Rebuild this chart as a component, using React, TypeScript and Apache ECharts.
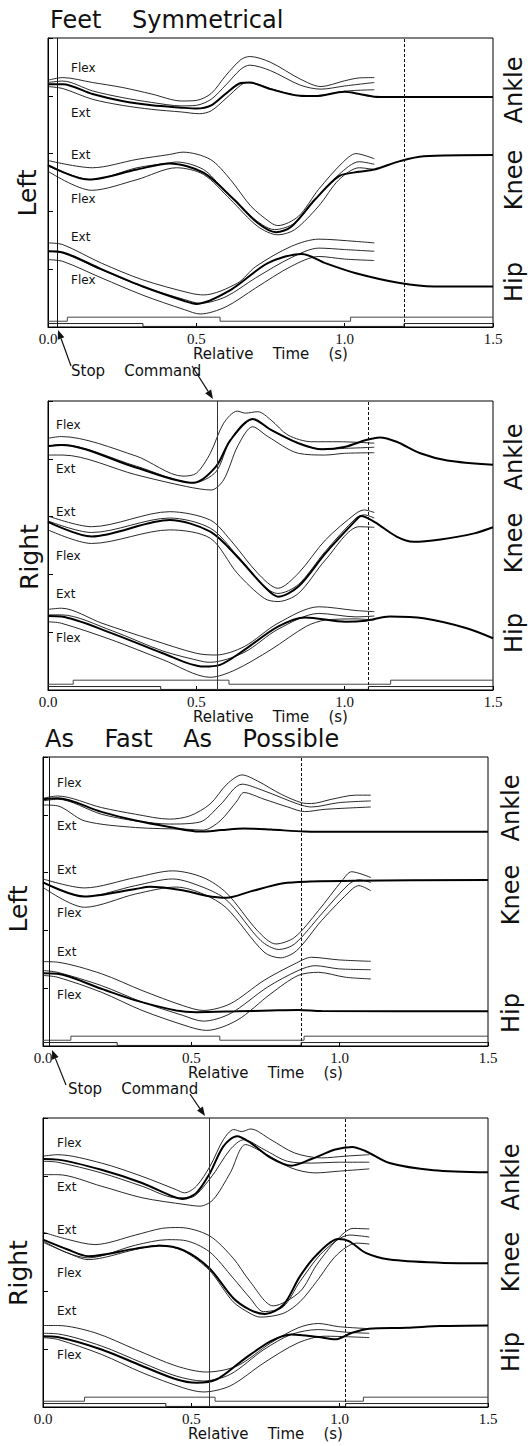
import React, { useEffect, useRef } from "react";
import * as echarts from "echarts";

// ---------- DATA (time in s, joint angle in arbitrary 0-100 plot units) ----------
// Panel 1: Feet Symmetrical / Left
const p1AnkleHi = [[0,85.4],[0.05,86.3],[0.15,84.6],[0.25,82.9],[0.35,80.6],[0.45,78.2],[0.5,78.4],[0.55,80.8],[0.6,87.1],[0.65,92.5],[0.68,93.6],[0.75,91.6],[0.85,85.8],[0.92,83.2],[1.0,85.2],[1.05,86.2],[1.1,86.3]];
const p1AnkleMid = [[0,84.6],[0.05,85.1],[0.15,81.7],[0.25,79.4],[0.35,77.7],[0.45,76.5],[0.5,76.7],[0.55,78.8],[0.6,83.8],[0.65,89.2],[0.68,90.6],[0.75,88.7],[0.85,83.7],[0.92,82.3],[1.0,83.4],[1.1,84.6]];
const p1AnkleLo = [[0,83.2],[0.05,82.5],[0.15,78.8],[0.25,76.7],[0.35,75.3],[0.45,74.4],[0.51,73.8],[0.55,74.8],[0.6,79.1],[0.65,83.7],[0.67,84.6],[0.75,82.5],[0.85,80.0],[0.9,79.9],[1.0,81.6],[1.1,82.1]];
const p1AnkleStop = [[0,84.0],[0.05,84.0],[0.15,80.6],[0.25,78.2],[0.35,76.7],[0.45,75.9],[0.5,75.6],[0.55,76.7],[0.6,80.8],[0.65,84.4],[0.68,84.6],[0.75,82.3],[0.85,80.0],[0.9,79.9],[1.0,81.4],[1.05,80.6],[1.1,79.7],[1.15,79.6],[1.5,79.6]];
const p1KneeHi = [[0,57.6],[0.15,55.1],[0.3,58.0],[0.41,59.7],[0.455,60.5],[0.547,58.0],[0.615,51.0],[0.684,41.8],[0.752,36.0],[0.775,35.1],[0.844,38.3],[0.912,47.6],[0.992,56.8],[1.038,60.0],[1.1,58.2]];
const p1KneeMid = [[0,55.7],[0.147,51.0],[0.3,55.1],[0.41,56.8],[0.433,57.1],[0.524,54.5],[0.592,47.6],[0.684,38.3],[0.764,33.7],[0.832,36.0],[0.9,44.1],[0.981,52.8],[1.049,57.2],[1.1,56.3]];
const p1KneeLo = [[0,53.9],[0.147,47.3],[0.3,51.0],[0.433,55.1],[0.524,52.8],[0.615,44.1],[0.707,34.8],[0.775,31.9],[0.832,33.7],[0.912,41.8],[0.981,51.0],[1.049,55.1],[1.1,54.5]];
const p1KneeStop = [[0,56.0],[0.136,51.0],[0.3,54.5],[0.41,56.6],[0.524,53.4],[0.627,44.1],[0.707,36.0],[0.769,32.8],[0.821,34.8],[0.9,44.1],[0.981,52.2],[1.049,53.7],[1.1,54.5],[1.186,57.4],[1.266,59.1],[1.5,59.5]];
const p1HipHi = [[0,29.1],[0.05,28.5],[0.18,22.1],[0.32,16.3],[0.48,11.7],[0.525,11.1],[0.639,15.2],[0.7,20.9],[0.82,27.9],[0.913,30.4],[1.04,29.6],[1.1,29.1]];
const p1HipMid = [[0,26.2],[0.05,25.6],[0.18,19.8],[0.32,13.9],[0.46,9.5],[0.513,8.2],[0.6,10.5],[0.7,17.0],[0.82,24.0],[0.913,27.3],[1.0,26.8],[1.1,26.2]];
const p1HipLo = [[0,23.3],[0.05,22.7],[0.18,17.0],[0.32,11.0],[0.46,6.0],[0.513,4.5],[0.6,7.0],[0.7,13.5],[0.82,21.0],[0.913,24.4],[1.0,23.5],[1.1,23.0]];
const p1HipStop = [[0,26.2],[0.05,25.8],[0.18,20.0],[0.32,14.0],[0.46,9.0],[0.5,8.0],[0.615,12.8],[0.741,22.1],[0.855,25.3],[0.935,22.1],[1.038,18.6],[1.186,15.2],[1.3,14.0],[1.5,14.0]];
const p1SwitchA = [[0,2.0],[0.065,3.4],[0.58,2.0],[1.02,3.4],[1.5,3.4]];
const p1SwitchB = [[0,1.2],[0.32,0.2],[1.2,1.2],[1.5,1.2]];

// Panel 2: Feet Symmetrical / Right
const p2AnkleHi = [[0,87.1],[0.045,87.7],[0.296,81.0],[0.455,74.0],[0.5,75.0],[0.547,81.9],[0.592,92.3],[0.638,96.5],[0.665,95.8],[0.707,96.3],[0.752,93.4],[0.809,88.2],[0.889,85.9],[0.981,85.9],[1.1,85.4]];
const p2AnkleMid = [[0,84.4],[0.045,84.9],[0.296,77.5],[0.49,71.7],[0.566,75.5],[0.615,86.5],[0.69,93.6],[0.752,90.0],[0.844,85.4],[0.924,83.3],[1.0,83.6],[1.1,84.0]];
const p2AnkleLo = [[0,81.3],[0.05,81.3],[0.296,74.5],[0.467,70.4],[0.55,69.2],[0.592,72.7],[0.64,84.5],[0.69,91.1],[0.741,87.7],[0.844,81.9],[0.935,81.3],[1.0,81.9],[1.1,82.1]];
const p2AnkleStop = [[0,84.4],[0.045,84.8],[0.296,77.0],[0.49,71.7],[0.566,77.3],[0.615,86.5],[0.69,93.8],[0.752,90.0],[0.844,85.4],[0.924,83.3],[1.003,84.2],[1.072,86.5],[1.118,87.4],[1.175,85.9],[1.255,81.9],[1.346,79.4],[1.5,77.9]];
const p2KneeHi = [[0,60.2],[0.147,56.5],[0.41,61.7],[0.547,58.8],[0.615,51.9],[0.707,40.4],[0.775,35.2],[0.844,40.4],[0.935,51.9],[1.038,61.1],[1.066,62.3],[1.1,61.4]];
const p2KneeMid = [[0,58.5],[0.147,54.5],[0.41,59.5],[0.547,56.0],[0.638,46.5],[0.729,35.8],[0.775,33.4],[0.844,36.5],[0.935,48.0],[1.038,59.5],[1.066,60.6],[1.1,59.5]];
const p2KneeLo = [[0,55.4],[0.147,50.7],[0.41,55.4],[0.547,52.5],[0.638,40.4],[0.729,31.7],[0.775,30.6],[0.844,33.4],[0.935,45.0],[1.049,56.5],[1.1,56.3]];
const p2KneeStop = [[0,58.2],[0.147,53.1],[0.41,58.8],[0.547,54.8],[0.638,46.1],[0.729,35.8],[0.775,32.3],[0.844,35.8],[0.935,47.3],[1.038,58.8],[1.055,60.2],[1.1,58.2],[1.175,53.1],[1.232,51.3],[1.323,52.1],[1.437,54.2],[1.5,56.3]];
const p2HipHi = [[0,27.9],[0.045,28.3],[0.182,23.1],[0.353,17.3],[0.5,12.7],[0.566,12.1],[0.661,15.0],[0.775,23.1],[0.913,28.8],[1.038,27.5],[1.1,27.1]];
const p2HipMid = [[0,26.0],[0.045,26.0],[0.216,20.5],[0.387,13.5],[0.524,9.8],[0.547,9.6],[0.661,13.0],[0.775,21.0],[0.913,26.5],[1.038,25.3],[1.1,25.6]];
const p2HipLo = [[0,23.6],[0.045,23.1],[0.216,17.3],[0.387,10.5],[0.547,4.4],[0.63,6.9],[0.752,14.0],[0.87,22.0],[0.935,24.2],[1.038,24.6],[1.1,24.2]];
const p2HipStop = [[0,25.6],[0.045,25.4],[0.216,19.6],[0.387,12.7],[0.524,8.1],[0.58,8.7],[0.661,13.8],[0.775,21.9],[0.867,25.1],[1.003,23.6],[1.072,24.0],[1.152,25.4],[1.266,24.8],[1.414,21.3],[1.5,17.9]];
const p2SwitchA = [[0,2.0],[0.085,3.4],[0.61,2.0],[1.155,3.4],[1.5,3.4]];
const p2SwitchB = [[0,1.2],[0.38,0.2],[1.08,1.2],[1.5,1.2]];

// Panel 3: As Fast As Possible / Left
const p3AnkleHi = [[0,85.7],[0.049,86.5],[0.197,82.5],[0.312,80.2],[0.426,78.5],[0.494,79.6],[0.563,83.7],[0.62,90.6],[0.671,93.8],[0.723,91.7],[0.803,87.1],[0.871,84.2],[0.905,83.9],[0.974,85.4],[1.054,86.8],[1.105,86.8]];
const p3AnkleMid = [[0,84.8],[0.049,85.4],[0.197,80.2],[0.312,77.9],[0.426,76.8],[0.529,77.5],[0.597,83.4],[0.671,90.6],[0.745,88.3],[0.86,83.7],[0.905,82.7],[0.997,84.2],[1.105,84.8]];
const p3AnkleLo = [[0,83.4],[0.049,83.1],[0.14,77.9],[0.312,75.6],[0.483,75.0],[0.54,74.7],[0.597,77.9],[0.654,84.8],[0.677,87.7],[0.745,85.4],[0.825,82.7],[0.882,81.1],[0.951,81.9],[1.105,82.7]];
const p3AnkleStop = [[0,85.4],[0.049,85.7],[0.197,81.0],[0.312,78.0],[0.426,75.8],[0.529,74.2],[0.6,74.7],[0.677,75.3],[0.768,74.9],[0.882,74.2],[1.0,74.1],[1.5,74.1]];
const p3KneeHi = [[0,57.8],[0.14,54.7],[0.312,58.3],[0.437,60.6],[0.54,58.3],[0.619,52.9],[0.723,39.9],[0.785,35.3],[0.848,37.6],[0.928,46.8],[1.008,57.2],[1.04,60.3],[1.105,58.3]];
const p3KneeMid = [[0,56.6],[0.14,51.7],[0.312,55.5],[0.437,57.8],[0.54,54.9],[0.619,50.5],[0.734,36.5],[0.795,33.4],[0.848,35.3],[0.939,45.7],[1.031,56.0],[1.065,57.5],[1.105,56.6]];
const p3KneeLo = [[0,54.9],[0.14,48.0],[0.312,52.6],[0.449,55.0],[0.54,52.6],[0.619,47.7],[0.745,32.5],[0.8,30.5],[0.855,33.0],[0.939,43.4],[1.042,54.3],[1.065,55.5],[1.105,53.7]];
const p3KneeStop = [[0,56.6],[0.14,51.7],[0.312,54.3],[0.36,55.1],[0.47,53.9],[0.55,52.0],[0.619,51.3],[0.7,53.5],[0.81,56.3],[0.9,56.9],[1.05,57.2],[1.5,57.4]];
const p3HipHi = [[0,29.2],[0.049,29.0],[0.197,25.0],[0.334,19.2],[0.471,14.0],[0.54,12.3],[0.631,14.6],[0.745,22.7],[0.848,28.4],[0.905,30.7],[0.997,29.8],[1.105,29.3]];
const p3HipMid = [[0,26.1],[0.049,25.5],[0.197,20.9],[0.334,15.2],[0.471,10.6],[0.54,8.6],[0.631,11.2],[0.757,20.4],[0.86,26.1],[0.917,27.8],[0.997,26.7],[1.105,26.4]];
const p3HipLo = [[0,24.4],[0.049,23.8],[0.197,18.6],[0.334,12.3],[0.494,6.6],[0.551,5.4],[0.654,8.9],[0.768,18.1],[0.86,24.4],[0.928,25.5],[1.019,23.8],[1.105,23.2]];
const p3HipStop = [[0,25.2],[0.049,25.0],[0.197,19.8],[0.312,15.8],[0.449,12.3],[0.517,11.7],[0.654,12.0],[0.768,12.3],[0.86,12.5],[0.939,12.1],[1.5,12.0]];
const p3SwitchA = [[0,2.0],[0.094,3.4],[0.596,2.0],[0.88,3.4],[1.5,3.4]];
const p3SwitchB = [[0,1.2],[0.25,0.2],[0.87,1.2],[1.5,1.2]];

// Panel 4: As Fast As Possible / Right
const p4AnkleHi = [[0,86.8],[0.049,87.3],[0.197,84.4],[0.334,79.8],[0.449,75.2],[0.477,74.1],[0.517,76.4],[0.563,83.3],[0.608,92.5],[0.643,96.0],[0.67,95.3],[0.7,96.2],[0.768,92.5],[0.848,87.9],[0.939,86.2],[1.019,86.8],[1.1,87.3]];
const p4AnkleMid = [[0,85.0],[0.049,84.7],[0.197,81.0],[0.334,76.4],[0.449,72.4],[0.494,72.4],[0.563,79.0],[0.631,89.1],[0.677,92.5],[0.745,89.1],[0.825,85.0],[0.905,84.4],[0.997,84.7],[1.1,84.7]];
const p4AnkleLo = [[0,80.4],[0.049,80.4],[0.197,76.4],[0.334,72.4],[0.483,70.0],[0.529,69.5],[0.574,71.8],[0.631,81.0],[0.683,90.8],[0.745,87.9],[0.837,82.7],[0.917,81.0],[0.997,81.6],[1.1,82.4]];
const p4AnkleStop = [[0,85.8],[0.049,85.6],[0.197,82.1],[0.334,77.5],[0.437,72.9],[0.471,72.0],[0.517,74.1],[0.563,81.0],[0.608,90.2],[0.654,93.7],[0.7,91.4],[0.768,86.2],[0.837,83.5],[0.905,85.8],[0.985,89.1],[1.042,90.0],[1.088,88.5],[1.168,84.4],[1.316,81.9],[1.5,81.2]];
const p4KneeHi = [[0,60.5],[0.083,58.0],[0.175,56.2],[0.312,59.5],[0.4,61.8],[0.46,62.1],[0.56,59.3],[0.641,51.5],[0.698,43.4],[0.776,35.0],[0.866,39.9],[0.922,49.1],[0.99,57.8],[1.045,61.8],[1.1,61.6]];
const p4KneeMid = [[0,57.4],[0.083,53.3],[0.152,51.6],[0.312,56.0],[0.42,57.9],[0.473,57.7],[0.56,53.8],[0.641,44.6],[0.698,37.7],[0.743,33.0],[0.81,34.7],[0.866,43.4],[0.945,53.8],[1.034,59.5],[1.1,58.8]];
const p4KneeLo = [[0,57.0],[0.083,53.3],[0.152,51.0],[0.312,54.5],[0.392,56.0],[0.473,54.0],[0.56,47.4],[0.641,36.4],[0.698,32.4],[0.732,31.1],[0.81,32.4],[0.866,36.4],[0.922,43.4],[0.99,52.6],[1.057,56.7],[1.1,56.4]];
const p4KneeStop = [[0,57.9],[0.083,54.5],[0.152,52.2],[0.312,54.8],[0.392,55.8],[0.473,54.3],[0.56,48.1],[0.641,37.7],[0.698,33.6],[0.748,32.2],[0.81,35.3],[0.866,45.2],[0.922,52.6],[0.995,58.1],[1.031,57.4],[1.088,53.3],[1.168,51.0],[1.339,49.9],[1.5,49.7]];
const p4HipHi = [[0,28.2],[0.049,28.2],[0.175,25.7],[0.312,19.9],[0.449,14.2],[0.551,12.1],[0.654,14.2],[0.768,22.2],[0.86,27.4],[0.928,28.9],[0.997,27.8],[1.1,27.1]];
const p4HipMid = [[0,25.5],[0.049,25.3],[0.197,21.1],[0.334,15.3],[0.449,10.7],[0.54,9.0],[0.631,11.3],[0.745,19.9],[0.837,25.1],[0.928,26.8],[1.019,25.9],[1.1,25.5]];
const p4HipLo = [[0,24.0],[0.049,23.4],[0.197,18.2],[0.334,11.9],[0.471,6.7],[0.54,5.2],[0.631,7.3],[0.745,15.3],[0.86,22.2],[0.951,24.5],[1.1,24.0]];
const p4HipStop = [[0,24.5],[0.049,24.2],[0.197,19.9],[0.334,14.2],[0.449,9.6],[0.517,8.4],[0.586,9.6],[0.677,16.5],[0.768,22.8],[0.837,25.1],[0.928,24.2],[0.985,23.4],[1.042,25.7],[1.099,27.1],[1.225,27.4],[1.339,28.0],[1.5,28.2]];
const p4SwitchA = [[0,2.0],[0.14,3.4],[0.58,2.0],[1.08,3.4],[1.5,3.4]];
const p4SwitchB = [[0,1.2],[0.414,0.2],[1.02,1.2],[1.5,1.2]];

// stop-command time and dashed end time per panel
const stopTimes = [0.033, 0.566, 0.024, 0.56];
const endTimes = [1.2, 1.081, 0.871, 1.022];

const xTicks = [0, 0.5, 1.0, 1.5];
const xAxisName = "Relative    Time    (s)";
const jointNames = ["Ankle", "Knee", "Hip"];
const sideNames = ["Left", "Right", "Left", "Right"];
const conditionTitles = ["Feet    Symmetrical", "As    Fast    As    Possible"];
const bandLabels = ["Flex", "Ext", "Ext", "Flex", "Ext", "Flex"];

const panelCurves = [
  [[p1AnkleHi, p1AnkleMid, p1AnkleLo, p1AnkleStop], [p1KneeHi, p1KneeMid, p1KneeLo, p1KneeStop], [p1HipHi, p1HipMid, p1HipLo, p1HipStop]],
  [[p2AnkleHi, p2AnkleMid, p2AnkleLo, p2AnkleStop], [p2KneeHi, p2KneeMid, p2KneeLo, p2KneeStop], [p2HipHi, p2HipMid, p2HipLo, p2HipStop]],
  [[p3AnkleHi, p3AnkleMid, p3AnkleLo, p3AnkleStop], [p3KneeHi, p3KneeMid, p3KneeLo, p3KneeStop], [p3HipHi, p3HipMid, p3HipLo, p3HipStop]],
  [[p4AnkleHi, p4AnkleMid, p4AnkleLo, p4AnkleStop], [p4KneeHi, p4KneeMid, p4KneeLo, p4KneeStop], [p4HipHi, p4HipMid, p4HipLo, p4HipStop]],
];
const panelSwitches = [[p1SwitchA, p1SwitchB], [p2SwitchA, p2SwitchB], [p3SwitchA, p3SwitchB], [p4SwitchA, p4SwitchB]];

// ---------- LAYOUT ----------
const W = 531;
const H = 1446;
const GRID_W = 445;
const GRID_H = 289;
const gridPos = [
  { left: 48, top: 38, nameGap: 17 },
  { left: 48, top: 401, nameGap: 15 },
  { left: 43, top: 757, nameGap: 16 },
  { left: 43, top: 1118, nameGap: 17 },
];
const jointLabelY = [
  [90, 180, 282],
  [457, 543, 633],
  [808, 895, 1013],
  [1177, 1262, 1352],
];
const jointLabelX = [514, 514, 511, 511];
const sideLabelPos = [
  [27, 193],
  [29, 557],
  [18, 909],
  [18, 1273],
];
const bandLabelX = [71, 56, 57, 57];
const bandLabelY = [
  [68, 113, 155, 199, 237, 280],
  [425, 469, 512, 556, 594, 638],
  [783, 826, 870, 913, 952, 995],
  [1143, 1187, 1230, 1273, 1311, 1355],
];

const SANS = "'DejaVu Sans', Verdana, sans-serif";
const SERIF = "'Liberation Serif', 'DejaVu Serif', serif";
const INK = "#111";

function text(x: number, y: number, t: string, size: number, extra: any = {}) {
  return {
    type: "text",
    x,
    y,
    rotation: extra.rotation || 0,
    silent: true,
    style: {
      text: t,
      font: `${size}px ${SANS}`,
      fill: INK,
      textAlign: extra.align || "left",
      textVerticalAlign: "middle",
    },
  };
}

function arrow(x1: number, y1: number, x2: number, y2: number) {
  const ang = Math.atan2(y2 - y1, x2 - x1);
  const L = 9;
  const Wd = 3.5;
  const bx = x2 - L * Math.cos(ang);
  const by = y2 - L * Math.sin(ang);
  const px = -Math.sin(ang) * Wd;
  const py = Math.cos(ang) * Wd;
  return [
    { type: "line", silent: true, shape: { x1, y1, x2: bx, y2: by }, style: { stroke: INK, lineWidth: 1.2 } },
    {
      type: "polygon",
      silent: true,
      shape: { points: [[x2, y2], [bx + px, by + py], [bx - px, by - py]] },
      style: { fill: INK },
    },
  ];
}

function buildOption() {
  const grids = gridPos.map((g) => ({
    left: g.left,
    top: g.top,
    width: GRID_W,
    height: GRID_H,
    show: true,
    borderColor: "#000",
    borderWidth: 1,
  }));

  const xAxes = gridPos.map((g, i) => ({
    type: "value",
    gridIndex: i,
    min: xTicks[0],
    max: xTicks[xTicks.length - 1],
    interval: xTicks[1] - xTicks[0],
    name: xAxisName,
    nameLocation: "middle",
    nameGap: g.nameGap,
    nameTextStyle: { fontFamily: SANS, fontSize: 15, color: INK, lineHeight: 15 },
    axisLine: { show: true, lineStyle: { color: "#000", width: 1 } },
    axisTick: { show: true, inside: true, length: 4, lineStyle: { color: "#000" } },
    axisLabel: {
      show: true,
      formatter: (v: number) => v.toFixed(1),
      fontFamily: SERIF,
      fontSize: 15,
      color: INK,
      margin: 4,
      showMinLabel: true,
      showMaxLabel: true,
    },
    splitLine: { show: false },
  }));

  const yAxes = gridPos.map((_, i) => ({
    type: "value",
    gridIndex: i,
    min: 0,
    max: 100,
    interval: 20,
    axisLine: { show: true, lineStyle: { color: "#000", width: 1 } },
    axisTick: { show: true, inside: true, length: 5, lineStyle: { color: "#000" } },
    axisLabel: { show: false },
    splitLine: { show: false },
  }));

  const series: any[] = [];
  panelCurves.forEach((joints, gi) => {
    joints.forEach((curves, ji) => {
      curves.forEach((data, ci) => {
        const thick = ci === 3;
        series.push({
          type: "line",
          name: `${sideNames[gi]} ${jointNames[ji]} ${thick ? "stop" : "normal " + ci}`,
          xAxisIndex: gi,
          yAxisIndex: gi,
          data,
          smooth: 0.3,
          symbol: "none",
          silent: true,
          z: thick ? 4 : 3,
          lineStyle: { width: thick ? 2 : 0.9, color: thick ? "#000" : "#111" },
        });
      });
    });
    const [sa, sb] = panelSwitches[gi];
    series.push({
      type: "line",
      name: `footswitch A ${gi}`,
      xAxisIndex: gi,
      yAxisIndex: gi,
      data: sa,
      step: "end",
      symbol: "none",
      silent: true,
      lineStyle: { width: 1, color: "#444" },
      markLine: {
        silent: true,
        symbol: ["none", "none"],
        label: { show: false },
        data: [
          { xAxis: stopTimes[gi], lineStyle: { type: "solid", color: gi % 2 === 1 ? "#333" : "#111", width: 1 } },
          { xAxis: endTimes[gi], lineStyle: { type: [3, 2], color: "#111", width: 1 } },
        ],
      },
    });
    series.push({
      type: "line",
      name: `footswitch B ${gi}`,
      xAxisIndex: gi,
      yAxisIndex: gi,
      data: sb,
      step: "end",
      symbol: "none",
      silent: true,
      lineStyle: { width: 1, color: "#222" },
    });
  });

  const graphic: any[] = [];
  graphic.push(text(50, 20, conditionTitles[0], 24));
  graphic.push(text(45, 739, conditionTitles[1], 24));
  sideLabelPos.forEach((p, i) => graphic.push(text(p[0], p[1], sideNames[i], 25, { rotation: Math.PI / 2, align: "center" })));
  jointLabelY.forEach((ys, pi) =>
    ys.forEach((y, ji) => graphic.push(text(jointLabelX[pi], y, jointNames[ji], 24, { rotation: Math.PI / 2, align: "center" })))
  );
  bandLabelY.forEach((ys, pi) => ys.forEach((y, k) => graphic.push(text(bandLabelX[pi], y, bandLabels[k], 12))));
  // Stop Command annotations
  graphic.push(text(71, 371, "Stop    Command", 15));
  graphic.push(...arrow(71, 366, 58, 330));
  graphic.push(...arrow(192, 366, 213, 399));
  graphic.push(text(68, 1089, "Stop    Command", 15));
  graphic.push(...arrow(66, 1085, 52, 1050));
  graphic.push(...arrow(190, 1094, 205, 1116));

  return {
    animation: false,
    backgroundColor: "#fff",
    grid: grids,
    xAxis: xAxes,
    yAxis: yAxes,
    series,
    graphic,
  };
}

export default function App() {
  const ref = useRef<HTMLDivElement>(null);
  useEffect(() => {
    if (!ref.current) return;
    const chart = echarts.init(ref.current, undefined, { renderer: "svg" });
    chart.setOption(buildOption() as any);
    return () => chart.dispose();
  }, []);
  return (
    <div
      ref={ref}
      style={{ position: "absolute", left: 0, top: 0, width: W, height: H, background: "#fff" }}
    />
  );
}
